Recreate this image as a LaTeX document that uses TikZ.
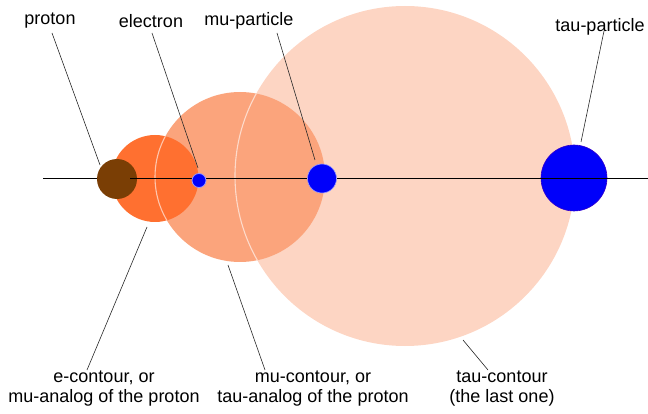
\documentclass[tikz,border=0pt]{standalone}
\usepackage{fontspec}
\setmainfont{Liberation Sans}
\definecolor{protonc}{RGB}{122,62,5}
\definecolor{econt}{RGB}{255,112,48}
\definecolor{mucont}{RGB}{251,164,124}
\definecolor{taucont}{RGB}{253,213,195}
\definecolor{partblue}{RGB}{0,0,250}
\definecolor{leader}{RGB}{40,40,40}
\begin{document}
\begin{tikzpicture}[x=1pt,y=-1pt,
  disc/.style={circle,inner sep=0pt,draw=none},
  rim/.style={draw=white,opacity=0.6,line width=1.1pt},
  lbl/.style={inner sep=0pt,font=\fontsize{18}{20}\selectfont,align=center},
  lead/.style={draw=leader,line width=0.6pt},
  axisline/.style={draw=black,line width=0.7pt}]
\useasboundingbox (0,0) rectangle (648,414);
% contours
\node[disc,fill=taucont,minimum size=340pt] (tauc) at (405,176) {};
\node[disc,fill=mucont,minimum size=170pt] (muc) at (240,177) {};
\node[disc,fill=econt,minimum size=87pt] (ec) at (155,178.5) {};
\begin{scope}
  \clip (ec.center) circle[radius=43.5pt];
  \draw[rim] (muc.center) circle[radius=85pt];
\end{scope}
\begin{scope}
  \clip (muc.center) circle[radius=85pt];
  \draw[rim] (tauc.center) circle[radius=170pt];
\end{scope}
% tau particle under the axis line
\node[disc,fill=partblue,draw=blue!60!violet,line width=0.6pt,minimum size=66pt] (taup) at (574,178) {};
% axis
\coordinate (axl) at (43,178.5);
\coordinate (axr) at (648,178.5);
\draw[axisline] (axl) -- (axr);
% proton and particles over the line
\node[disc,fill=protonc,minimum size=40pt] (proton) at (117,179) {};
\coordinate (pin) at (130,178.5);
\coordinate (pedge) at (137,178.5);
\draw[axisline] (pin) -- (pedge);
\node[disc,fill=partblue,draw=blue!40!white,line width=0.8pt,minimum size=14pt] (electron) at (199,180.5) {};
\node[disc,fill=partblue,draw=blue!40!white,line width=0.6pt,minimum size=29pt] (mup) at (322,178.5) {};
% labels
\node[lbl] (lproton) at (50,21) {proton};
\node[lbl] (lelectron) at (151,21) {electron};
\node[lbl] (lmup) at (249,21) {mu-particle};
\node[lbl] (ltaup) at (600,27) {tau-particle};
\node[lbl] (lec) at (104,389) {e-contour, or\\mu-analog of the proton};
\node[lbl] (lmuc) at (313,389) {mu-contour, or\\tau-analog of the proton};
\node[lbl] (ltauc) at (502,389) {tau-contour\\(the last one)};
% leader end points
\coordinate (sproton) at (52,33);
\coordinate (eproton) at (100,165);
\coordinate (selectron) at (152,33);
\coordinate (eelectron) at (198,168);
\coordinate (smup) at (277,33);
\coordinate (emup) at (315,160);
\coordinate (staup) at (604,31);
\coordinate (etaup) at (581,142);
\coordinate (sec) at (147,227);
\coordinate (eec) at (87,370);
\coordinate (smuc) at (228,265);
\coordinate (emuc) at (265,370);
\coordinate (stauc) at (463,340);
\coordinate (etauc) at (488,370);
\draw[lead] (sproton) -- (eproton);
\draw[lead] (selectron) -- (eelectron);
\draw[lead] (smup) -- (emup);
\draw[lead] (staup) -- (etaup);
\draw[lead] (sec) -- (eec);
\draw[lead] (smuc) -- (emuc);
\draw[lead] (stauc) -- (etauc);
\end{tikzpicture}
\end{document}
